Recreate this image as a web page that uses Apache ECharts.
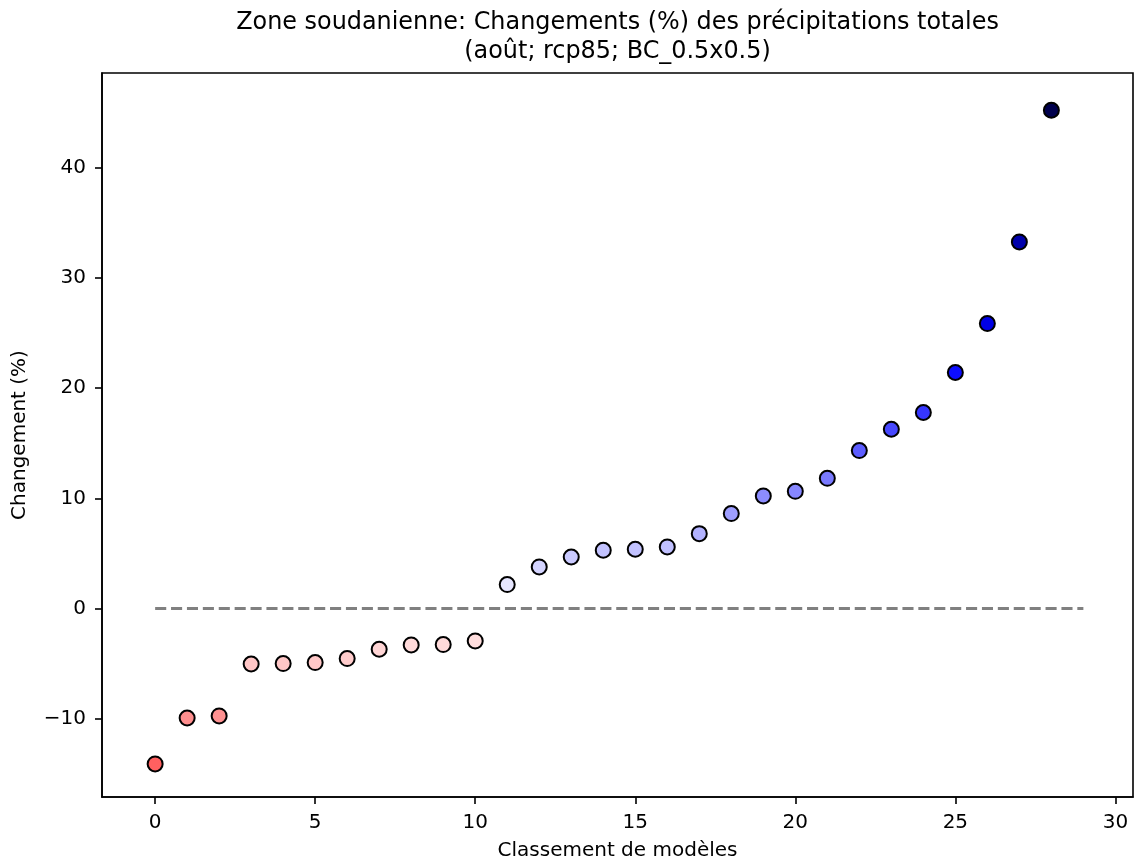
<!DOCTYPE html>
<html>
<head>
<meta charset="utf-8">
<script src="https://cdn.jsdelivr.net/npm/echarts@6/dist/echarts.min.js"></script>
<style>
  html, body { margin: 0; padding: 0; background: #fff; }
  #chart { width: 1135px; height: 861px; }
</style>
</head>
<body>
<div id="chart"></div>
<script>
// ---- data ----
const ranks = [0, 1, 2, 3, 4, 5, 6, 7, 8, 9, 10, 11, 12, 13, 14, 15, 16, 17, 18, 19, 20, 21, 22, 23, 24, 25, 26, 27, 28];
const changes = [-14.1, -9.93, -9.74, -5.03, -4.99, -4.90, -4.54, -3.69, -3.30, -3.27, -2.94,
                 2.18, 3.78, 4.68, 5.29, 5.38, 5.59, 6.80, 8.62, 10.22, 10.64, 11.82, 14.34,
                 16.27, 17.79, 21.42, 25.86, 33.27, 45.22];
const zeroLineX = [0, 29];
const zeroLineY = [0, 0];
const xTicks = [0, 5, 10, 15, 20, 25, 30];
const yTicks = [-10, 0, 10, 20, 30, 40];
const titleLines = ["Zone soudanienne: Changements (%) des précipitations totales", "(août; rcp85; BC_0.5x0.5)"];
const xName = "Classement de modèles";
const yName = "Changement (%)";

const FONT = "DejaVu Sans";
const chart = echarts.init(document.getElementById('chart'), null, { renderer: 'canvas' });
const vmax = Math.max(...changes.map(Math.abs));
const fmt = v => String(v).replace('-', '\u2212');
const axisLine = { show: true, onZero: false, lineStyle: { color: '#000', width: 1.6 } };

chart.setOption({
  backgroundColor: '#ffffff',
  animation: false,
  title: {
    text: titleLines.join('\n'),
    left: 617.5,
    textAlign: 'center',
    top: 8,
    padding: 0,
    textStyle: { fontFamily: FONT, fontSize: 23.9, fontWeight: 'normal', color: '#000', lineHeight: 29 }
  },
  grid: {
    left: 102, right: 2, top: 73, bottom: 64,
    containLabel: false, outerBoundsMode: 'none',
    show: true, borderColor: '#000', borderWidth: 1.6, backgroundColor: 'transparent'
  },
  visualMap: {
    show: false, type: 'continuous', seriesIndex: 0, dimension: 1,
    min: -vmax, max: vmax,
    inRange: { color: ['#800000', '#ff0000', '#ffffff', '#0000ff', '#00004d'] }
  },
  xAxis: {
    type: 'value', min: -1.66, max: 30.55,
    name: xName, nameLocation: 'middle', nameGap: 44,
    nameTextStyle: { fontFamily: FONT, fontSize: 20, color: '#000' },
    axisLine: axisLine,
    axisTick: { show: true, inside: false, length: 7, lineStyle: { color: '#000', width: 1.6 }, customValues: xTicks },
    axisLabel: { fontFamily: FONT, fontSize: 20, color: '#000', margin: 16, customValues: xTicks, formatter: fmt },
    splitLine: { show: false }
  },
  yAxis: {
    type: 'value', min: -17.1, max: 48.6,
    name: yName, nameLocation: 'middle', nameGap: 72, nameRotate: 90,
    nameTextStyle: { fontFamily: FONT, fontSize: 20, color: '#000' },
    axisLine: axisLine,
    axisTick: { show: true, inside: false, length: 7, lineStyle: { color: '#000', width: 1.6 }, customValues: yTicks },
    axisLabel: { fontFamily: FONT, fontSize: 20, color: '#000', margin: 16, customValues: yTicks, formatter: fmt },
    splitLine: { show: false }
  },
  series: [
    {
      type: 'scatter',
      data: ranks.map((r, i) => [r, changes[i]]),
      symbol: 'circle',
      symbolSize: 15,
      itemStyle: { borderColor: '#000', borderWidth: 2, opacity: 1 },
      z: 3
    },
    {
      type: 'line',
      data: zeroLineX.map((x, i) => [x, zeroLineY[i]]),
      symbol: 'none',
      lineStyle: { color: '#808080', width: 3, type: [11.1, 4.8] },
      z: 2
    }
  ]
});
</script>
</body>
</html>
